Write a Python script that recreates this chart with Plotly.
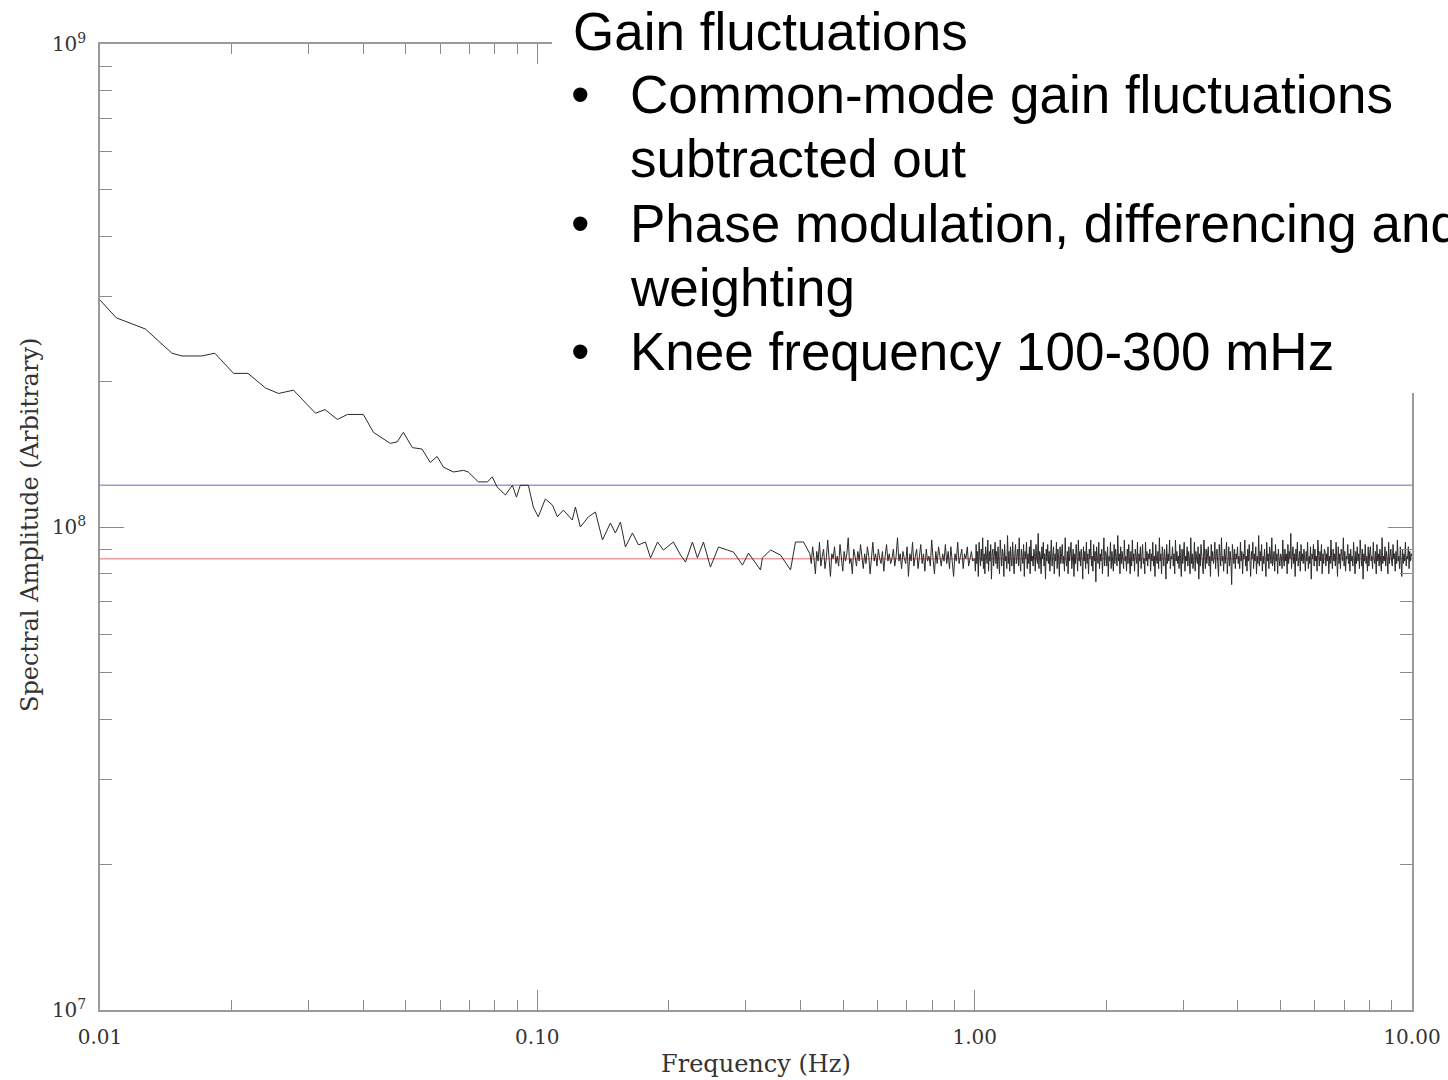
import numpy as np
import plotly.graph_objects as go

# ---------------- data ----------------
# low-frequency part: frequency (Hz) and spectral amplitude (units of 1e6)
low_freq = [0.0100, 0.0109, 0.0127, 0.0146, 0.0154, 0.0171, 0.0183, 0.0202, 0.0218, 0.0239,
            0.0256, 0.0277, 0.0311, 0.0327, 0.0349, 0.0368, 0.0400, 0.0422, 0.0461, 0.0478,
            0.0494, 0.0518, 0.0545, 0.0569, 0.0590, 0.0610, 0.0643, 0.0678, 0.0695, 0.0733,
            0.0769, 0.0789, 0.0809, 0.0845, 0.0877, 0.0896, 0.0914, 0.0954, 0.0979, 0.1005,
            0.1043, 0.1083, 0.1111, 0.1147, 0.1202, 0.1222, 0.1254, 0.1309, 0.1358, 0.1409,
            0.1469, 0.1508, 0.1549, 0.1590, 0.1650, 0.1703, 0.1767, 0.1815, 0.1883, 0.1942,
            0.2047, 0.2125, 0.2182, 0.2263, 0.2323, 0.2398, 0.2488, 0.2595, 0.2722, 0.2810,
            0.2945, 0.3040, 0.3238, 0.3270, 0.3414, 0.3597, 0.3793, 0.3893, 0.4061]
low_amp = [295, 271, 257, 229, 226, 226, 229, 208, 208, 194,
           189, 192, 172, 175, 167, 171, 171, 157, 149, 150,
           157, 146, 145, 136, 140, 133, 130, 131, 130, 124,
           124, 127, 121, 116.5, 122, 115.3, 122, 122, 110, 105,
           114.3, 111, 105, 108.4, 103.4, 110, 100, 105, 107.4, 94,
           101.9, 97.2, 102.4, 90.9, 97.2, 91.8, 93.1, 86.3, 93.1, 89.6,
           93.1, 87.5, 84.6, 93.1, 86.3, 93.1, 82.6, 90.9, 89.6, 88.7,
           83.4, 88.3, 81.5, 86.3, 89.6, 87.5, 81.5, 93.1, 93.1]

# mid band 0.42 - 0.99 Hz (units of 1e6)
mid_range = [0.42, 0.99]
mid_amp = [88, 84, 91, 86, 80, 89, 85, 93, 83, 87, 90, 82, 86, 94, 85, 79, 88, 86, 91, 84,
           87, 83, 92, 86, 81, 89, 85, 88, 95, 84, 86, 80, 90, 87, 83, 89, 85, 92, 86, 82,
           88, 84, 91, 87, 80, 86, 93, 85, 88, 83, 90, 86, 84, 89, 81, 87, 92, 85, 88, 84,
           86, 90, 83, 87, 95, 85, 88, 82, 89, 86, 84, 91, 79, 88, 85, 93, 83, 87, 90, 82,
           86, 92, 84, 88, 81, 90, 85, 87, 83, 94, 86, 80, 89, 84, 91, 86, 83, 88, 85, 92,
           84, 89, 82, 91, 86, 79, 88, 85, 93, 84, 87, 90, 82, 88, 86, 91, 83, 87, 89, 85]

# high band 1 - 10 Hz (units of 1e6)
high_range = [1.0, 10.0]
high_amp = [86, 81, 92, 84, 89, 79, 93, 87, 83, 90, 85, 95, 82, 88, 80, 91, 86, 84, 94, 81, 89, 85, 92, 78, 88, 90, 83, 87, 93, 84,
            89, 82, 91, 85, 80, 94, 86, 83, 90, 88, 79, 92, 85, 87, 82, 96, 84, 89, 81, 91, 86, 83, 93, 85, 80, 88, 92, 84, 87, 90,
            83, 95, 85, 81, 90, 87, 84, 92, 79, 89, 86, 93, 82, 88, 84, 91, 80, 94, 85, 87, 83, 90, 88, 81, 92, 86, 84, 97, 82, 89,
            87, 80, 91, 86, 93, 83, 88, 78, 90, 85, 92, 84, 89, 81, 87, 94, 83, 86, 91, 80, 88, 85, 93, 82, 90, 86, 79, 91, 84, 88,
            92, 84, 87, 81, 95, 86, 83, 89, 80, 91, 85, 88, 93, 82, 86, 90, 79, 88, 84, 92, 87, 81, 94, 85, 89, 83, 90, 86, 78, 91,
            85, 89, 82, 93, 84, 88, 80, 90, 86, 94, 83, 87, 81, 92, 85, 89, 77, 91, 86, 84, 93, 82, 88, 85, 90, 80, 87, 95, 83, 89,
            88, 83, 91, 79, 87, 85, 93, 82, 89, 86, 81, 92, 84, 90, 87, 83, 96, 85, 88, 80, 91, 84, 89, 86, 82, 94, 85, 87, 81, 90,
            84, 92, 86, 80, 89, 83, 94, 85, 88, 81, 90, 87, 84, 93, 79, 88, 85, 91, 82, 87, 92, 84, 86, 80, 93, 85, 89, 83, 88, 86,
            90, 81, 88, 85, 93, 83, 87, 79, 92, 86, 84, 89, 82, 95, 85, 88, 80, 91, 87, 83, 90, 86, 78, 92, 84, 88, 85, 94, 82, 87,
            86, 91, 83, 88, 80, 94, 85, 89, 84, 87, 82, 92, 86, 79, 90, 84, 88, 93, 81, 87, 85, 91, 83, 89, 86, 80, 95, 84, 88, 82,
            85, 93, 81, 89, 86, 84, 91, 78, 88, 83, 92, 87, 85, 80, 94, 86, 82, 90, 84, 88, 91, 83, 87, 79, 92, 85, 89, 84, 86, 93,
            82, 88, 90, 84, 79, 92, 86, 83, 95, 85, 87, 81, 90, 84, 88, 93, 80, 86, 91, 83, 89, 85, 76, 92, 87, 84, 90, 82, 88, 86,
            91, 84, 87, 82, 93, 85, 89, 80, 88, 86, 94, 83, 87, 81, 90, 85, 92, 84, 79, 89, 86, 93, 82, 88, 85, 91, 80, 87, 84, 96,
            83, 89, 85, 92, 81, 87, 84, 90, 86, 79, 93, 85, 88, 82, 91, 87, 84, 95, 83, 86, 89, 81, 92, 85, 88, 80, 90, 86, 83, 88,
            87, 82, 94, 86, 83, 90, 85, 88, 80, 92, 84, 89, 86, 97, 82, 87, 91, 84, 88, 79, 90, 85, 93, 83, 86, 89, 81, 92, 85, 88,
            84, 90, 86, 81, 89, 85, 93, 82, 87, 84, 91, 78, 88, 86, 92, 83, 90, 85, 87, 81, 94, 86, 83, 89, 85, 92, 80, 88, 84, 90,
            89, 83, 88, 85, 91, 80, 87, 84, 94, 86, 82, 90, 85, 88, 83, 93, 86, 79, 91, 84, 88, 82, 90, 87, 85, 95, 83, 89, 81, 87,
            86, 92, 84, 88, 81, 90, 85, 87, 83, 93, 86, 80, 89, 84, 91, 85, 88, 82, 94, 86, 83, 90, 78, 88, 85, 92, 84, 87, 81, 91,
            83, 88, 91, 85, 87, 82, 93, 86, 84, 89, 80, 92, 85, 88, 83, 90, 86, 81, 95, 84, 87, 85, 91, 83, 89, 86, 80, 93, 84, 88,
            90, 85, 83, 92, 86, 88, 81, 89, 84, 94, 85, 87, 82, 91, 86, 79, 90, 84, 88, 85, 93, 83, 87, 86, 91, 82, 89, 85, 88, 87]

blue_level = 1.22e8
red_level = 8.6e7

x_ticks = [0.01, 0.1, 1, 10]
x_ticktext = ["0.01", "0.10", "1.00", "10.00"]
y_ticks = [1e7, 1e8, 1e9]
y_ticktext = ["10<sup>7</sup>", "10<sup>8</sup>", "10<sup>9</sup>"]

x_title = "Frequency (Hz)"
y_title = "Spectral Amplitude (Arbitrary)"
heading = "Gain fluctuations"
bullets = [("•", "Common-mode gain fluctuations"), (None, "subtracted out"),
           ("•", "Phase modulation, differencing and"), (None, "weighting"),
           ("•", "Knee frequency 100-300 mHz")]

# ---------------- build series ----------------
scale = 1e6
freq = list(low_freq) + list(np.geomspace(mid_range[0], mid_range[1], len(mid_amp))) + \
       list(np.geomspace(high_range[0], high_range[1], len(high_amp)))
amp = [v * scale for v in low_amp + mid_amp + high_amp]

fig = go.Figure()
fig.add_trace(go.Scatter(x=[0.01, 10], y=[blue_level, blue_level], mode="lines",
                         line=dict(color="#9a9ad6", width=1.5), hoverinfo="skip"))
fig.add_trace(go.Scatter(x=[0.01, 10], y=[red_level, red_level], mode="lines",
                         line=dict(color="#ee9a9a", width=1.5), hoverinfo="skip"))
fig.add_trace(go.Scatter(x=freq, y=amp, mode="lines",
                         line=dict(color="#2a2a2a", width=1)))

W, H = 1448, 1080
L, R, T, B = 100, 36, 44, 70
pw, ph = W - L - R, H - T - B


def px(x):
    return (x - L) / pw


def py(y):
    return (H - B - y) / ph


axis_common = dict(type="log", showgrid=False, zeroline=False, showline=True,
                   linecolor="#9a9a9a", linewidth=1.5, mirror="ticks",
                   ticks="inside", tickcolor="#8a8a8a", tickwidth=1,
                   tickfont=dict(family="DejaVu Serif", size=20, color="#333333"),
                   tickmode="array", automargin=False)

minor_x = [k * 10.0 ** e for e in (-2, -1, 0) for k in range(2, 10)]
minor_y = [k * 10.0 ** e for e in (7, 8) for k in range(2, 10)]

fig.update_xaxes(range=[-2, 1], tickvals=x_ticks, ticktext=x_ticktext, ticklen=20,
                 ticklabelstandoff=8,
                 minor=dict(tickmode="array", tickvals=minor_x, ticks="inside",
                            ticklen=10, tickcolor="#8a8a8a", tickwidth=1),
                 **axis_common)
fig.update_yaxes(range=[7, 9], tickvals=y_ticks, ticktext=y_ticktext, ticklen=24,
                 ticklabelstandoff=8,
                 minor=dict(tickmode="array", tickvals=minor_y, ticks="inside",
                            ticklen=12, tickcolor="#8a8a8a", tickwidth=1),
                 **axis_common)

# white text box covering the upper right of the plot
fig.add_shape(type="rect", xref="paper", yref="paper",
              x0=px(552), x1=px(W + 20), y0=py(393), y1=py(-20),
              fillcolor="white", line=dict(width=0), layer="above")

annotations = []
title_font = dict(family="DejaVu Serif", size=24, color="#333333")
annotations.append(dict(text=x_title, xref="paper", yref="paper", x=px(756), y=py(1064),
                        showarrow=False, xanchor="center", yanchor="middle", font=title_font))
annotations.append(dict(text=y_title, xref="paper", yref="paper", x=px(30), y=py(525),
                        showarrow=False, xanchor="center", yanchor="middle", textangle=-90,
                        font=title_font))

txt_font = dict(family="Liberation Sans, Arial", size=53, color="black")
annotations.append(dict(text=heading, xref="paper", yref="paper", x=px(571), y=py(31.6),
                        showarrow=False, xanchor="left", yanchor="middle", font=txt_font))
centers = [94.6, 158.6, 223.6, 287.6, 351.6]
for (b, t), yc in zip(bullets, centers):
    if b:
        annotations.append(dict(text=b, xref="paper", yref="paper", x=px(580), y=py(yc),
                                showarrow=False, xanchor="center", yanchor="middle",
                                font=txt_font))
    annotations.append(dict(text=t, xref="paper", yref="paper", x=px(628), y=py(yc),
                            showarrow=False, xanchor="left", yanchor="middle", font=txt_font))

fig.update_layout(width=W, height=H, autosize=False,
                  margin=dict(l=L, r=R, t=T, b=B, pad=0, autoexpand=False),
                  paper_bgcolor="white", plot_bgcolor="white",
                  showlegend=False, annotations=annotations)

fig.write_html("out.html")
